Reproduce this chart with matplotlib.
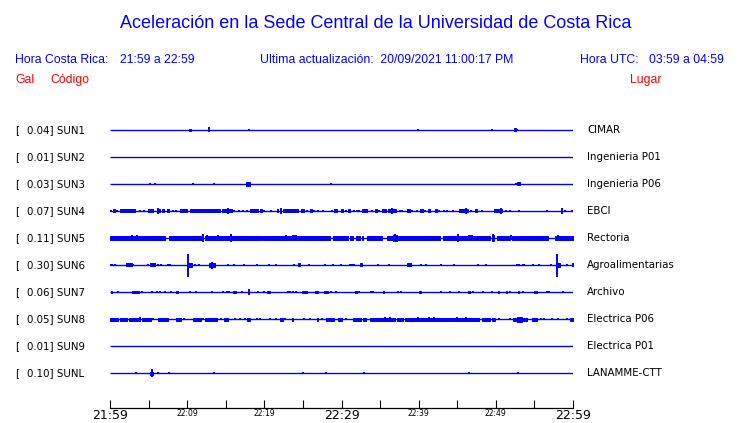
import matplotlib
matplotlib.use("Agg")
import matplotlib.pyplot as plt
from matplotlib import transforms

# ---------------- data ----------------
stations = ["SUN1", "SUN2", "SUN3", "SUN4", "SUN5", "SUN6", "SUN7", "SUN8", "SUN9", "SUNL"]
gal_values = [0.04, 0.01, 0.03, 0.07, 0.11, 0.30, 0.06, 0.05, 0.01, 0.10]
places = ["CIMAR", "Ingenieria P01", "Ingenieria P06", "EBCI", "Rectoria",
          "Agroalimentarias", "Archivo", "Electrica P06", "Electrica P01", "LANAMME-CTT"]

tick_minutes = [0, 5, 10, 15, 20, 25, 30, 35, 40, 45, 50, 55, 60]
tick_labels = ["21:59", "", "22:09", "", "22:19", "", "22:29", "", "22:39", "", "22:49", "", "22:59"]
big_labels = ["21:59", "22:29", "22:59"]

# bursts per station: (start minute, end minute, half amplitude in px)
sun1_blocks = [(10.3, 10.55, 1.3), (52.3, 52.6, 1.5)]
sun1_ticks = [18.0, 39.9, 49.5, 52.8]
sun1_peaks = [(12.8, 2.5)]

sun2_blocks = []
sun2_ticks = []
sun2_peaks = []

sun3_blocks = [(17.6, 18.2, 1.6), (52.8, 53.1, 1.5)]
sun3_ticks = [5.2, 5.8, 10.7, 13.5, 28.6, 52.6]
sun3_peaks = []

sun4_blocks = [(0.43, 0.65, 1.5), (1.25, 3.24, 1.5), (4.88, 5.62, 1.5), (6.05, 6.48, 1.5),
               (6.78, 7.04, 1.5), (7.34, 7.65, 1.5), (9.11, 9.94, 1.5), (10.37, 14.25, 1.5),
               (14.56, 15.77, 1.5), (18.14, 19.22, 1.5), (19.44, 19.65, 1.5), (21.6, 21.8, 1.5),
               (22.46, 24.4, 1.5), (24.75, 25.18, 1.5), (25.92, 26.13, 1.5), (29.07, 29.37, 1.5),
               (29.89, 30.19, 1.5), (30.88, 31.1, 1.5), (32.65, 33.34, 1.5), (34.34, 34.55, 1.5),
               (35.2, 35.76, 1.5), (36.06, 37.06, 1.5), (38.44, 38.87, 1.5), (40.17, 40.51, 1.5),
               (41.25, 41.46, 1.5), (42.11, 42.33, 1.5), (45.26, 46.43, 1.5), (47.29, 47.51, 1.5),
               (49.8, 50.75, 1.5)]
sun4_ticks = [0.13, 0.86, 3.89, 4.45, 8.21, 8.55, 16.11, 16.76, 17.28, 17.71, 20.0, 20.82,
              25.49, 26.48, 27.0, 27.65, 28.73, 30.58, 31.61, 31.96, 32.3, 33.99, 34.85,
              37.58, 37.83, 39.13, 39.74, 40.82, 42.67, 43.28, 43.71, 44.49, 46.73, 48.16,
              51.27, 51.83, 52.95, 56.58, 58.96, 59.85]
sun4_peaks = [(6.26, 2.8), (15.33, 2.8), (22.12, 3.0), (36.5, 2.8), (46.13, 2.8),
              (50.66, 2.8), (58.53, 3.0)]

sun5_blocks = [(0.0, 7.13, 1.7), (7.65, 11.88, 1.7), (12.31, 19.65, 1.7), (19.87, 28.51, 1.7),
               (28.94, 30.88, 1.7), (31.1, 31.5, 1.7), (31.9, 32.39, 1.7), (32.61, 32.82, 1.7),
               (33.26, 35.2, 1.7), (35.85, 42.76, 1.7), (43.19, 49.24, 1.7), (50.1, 51.83, 1.7),
               (52.05, 56.8, 1.7), (57.66, 60.0, 1.7),
               (23.54, 24.06, 2.5), (36.71, 37.14, 3.0), (46.4, 46.9, 2.5), (49.45, 49.76, 3.0)]
sun5_ticks = []
sun5_peaks = [(2.89, 2.5), (3.54, 2.5), (5.83, 2.3), (12.01, 4.0), (12.53, 2.5), (14.04, 2.5),
              (15.68, 4.0), (17.28, 2.3), (22.03, 2.3), (22.81, 2.5), (25.05, 2.3), (40.82, 2.3),
              (36.9, 4.0), (45.13, 4.0), (49.6, 3.5), (52.0, 2.5), (58.1, 2.5)]

sun6_blocks = [(2.07, 2.81, 1.5), (5.18, 5.83, 1.5), (24.32, 24.62, 1.5), (32.39, 32.61, 1.5),
               (38.44, 38.96, 1.5), (59.82, 60.0, 1.5),
               (10.15, 10.58, 2.3), (12.87, 13.61, 2.3), (57.79, 58.31, 2.3)]
sun6_ticks = [0.05, 0.30, 0.65, 3.02, 4.88, 6.26, 6.61, 7.56, 7.78, 11.01, 11.58, 15.33,
              16.11, 17.41, 19.09, 20.65, 21.47, 23.84, 25.83, 27.86, 28.86, 29.94, 31.1,
              31.4, 31.66, 34.68, 36.11, 40.25, 40.99, 42.89, 44.62, 47.73, 48.68, 52.69,
              52.95, 53.47, 53.69, 54.85, 55.63, 57.1, 59.17]
sun6_peaks = [(10.07, 11.5), (13.17, 3.5), (57.96, 11.5)]

sun7_blocks = [(0.13, 0.3, 1.5), (2.81, 3.76, 1.5), (8.55, 8.86, 1.5), (15.9, 16.29, 1.5),
               (20.39, 20.73, 1.5), (24.93, 25.49, 1.5), (26.57, 27.0, 1.5), (27.78, 28.21, 1.5),
               (31.74, 31.96, 1.5), (35.42, 35.55, 1.5), (40.08, 40.25, 1.5), (46.43, 46.65, 1.5),
               (50.23, 50.36, 1.5), (51.27, 51.4, 1.5), (52.82, 53.04, 1.5), (54.98, 55.29, 1.5)]
sun7_ticks = [1.08, 4.19, 5.4, 6.05, 6.48, 7.13, 7.86, 10.37, 11.1, 13.17, 14.69, 15.12,
              15.46, 17.06, 19.14, 19.96, 23.02, 23.33, 23.76, 24.06, 28.64, 29.24, 32.3,
              33.77, 34.12, 37.27, 37.7, 42.89, 44.05, 45.26, 47.08, 48.37, 49.45, 51.83,
              53.47, 56.58, 56.93, 58.66]
sun7_peaks = [(18.01, 3.0)]

sun8_blocks = [(0.0, 0.99, 1.5), (1.3, 1.51, 1.5), (1.73, 2.16, 1.5), (2.46, 3.24, 1.5),
               (3.37, 3.67, 1.5), (4.1, 5.27, 1.5), (6.18, 7.47, 1.5), (8.55, 9.2, 1.5),
               (10.8, 11.75, 1.5), (12.31, 13.82, 1.5), (14.82, 15.33, 1.5), (17.8, 18.14, 1.5),
               (22.03, 22.38, 1.5), (23.63, 23.76, 1.5), (26.78, 27.0, 1.5), (27.95, 28.21, 1.5),
               (28.42, 28.99, 1.5), (29.59, 30.02, 1.5), (31.53, 31.96, 1.5), (32.18, 32.48, 1.5),
               (32.82, 33.17, 1.5), (33.69, 36.93, 1.5), (37.14, 38.01, 1.5), (38.22, 44.27, 1.5),
               (44.49, 47.86, 1.5), (48.24, 49.24, 1.5), (49.45, 49.89, 1.5), (52.26, 52.69, 1.5),
               (53.56, 54.08, 1.5), (54.72, 55.37, 1.5), (59.61, 60.0, 1.5),
               (52.69, 53.34, 2.5)]
sun8_ticks = [5.62, 9.63, 12.01, 14.38, 16.2, 16.85, 17.49, 19.0, 19.44, 20.73, 21.47,
              22.68, 25.14, 25.92, 27.43, 30.58, 50.45, 51.83, 55.8, 56.24, 57.27, 58.1, 59.26]
sun8_peaks = [(3.89, 2.5), (35.63, 2.5), (36.28, 2.5), (39.95, 2.5), (41.38, 2.5),
              (42.02, 2.5), (45.01, 2.5), (46.09, 2.5)]

sun9_blocks = []
sun9_ticks = []
sun9_peaks = []

sunl_blocks = [(5.18, 5.62, 1.5)]
sunl_ticks = [3.37, 6.26, 7.69, 13.52, 25.05, 27.99, 32.95, 46.56, 52.91]
sunl_peaks = [(5.49, 4.0)]

all_blocks = [sun1_blocks, sun2_blocks, sun3_blocks, sun4_blocks, sun5_blocks,
              sun6_blocks, sun7_blocks, sun8_blocks, sun9_blocks, sunl_blocks]
all_ticks = [sun1_ticks, sun2_ticks, sun3_ticks, sun4_ticks, sun5_ticks,
             sun6_ticks, sun7_ticks, sun8_ticks, sun9_ticks, sunl_ticks]
all_peaks = [sun1_peaks, sun2_peaks, sun3_peaks, sun4_peaks, sun5_peaks,
             sun6_peaks, sun7_peaks, sun8_peaks, sun9_peaks, sunl_peaks]

# ---------------- figure ----------------
W, H = 740, 423
BLUE = (0, 0, 1)
RED = (1, 0, 0)
SP = 27.0          # pixel spacing between traces
TICK_AMP = 1.4     # default half amplitude of single ticks (px)

fig = plt.figure(figsize=(W / 100, H / 100), dpi=100)
fig.patch.set_facecolor("white")

ax = fig.add_axes([110 / W, 15 / H, 463 / W, 298 / H])
ax.set_xlim(0, 60)
ax.set_ylim(-(408 - 130) / SP, (130 - 110) / SP)
for s in ["top", "left", "right"]:
    ax.spines[s].set_visible(False)
ax.spines["bottom"].set_color("black")
ax.spines["bottom"].set_linewidth(0.9)
ax.set_yticks([])
ax.set_xticks(tick_minutes)
ax.set_xticklabels(tick_labels)
ax.tick_params(axis="x", direction="in", length=5.8, width=0.8, color="black", pad=1.0)
for lbl in ax.get_xticklabels():
    if lbl.get_text() in big_labels:
        lbl.set_fontsize(9.0)
    else:
        lbl.set_fontsize(5.5)
    lbl.set_family("DejaVu Sans")

for i, st in enumerate(stations):
    y0 = -i
    ax.plot([0, 60], [y0, y0], color=BLUE, lw=1.0, solid_capstyle="butt")
    for (a, b, amp) in all_blocks[i]:
        h = amp / SP
        ax.fill_between([a, b], [y0 - h, y0 - h], [y0 + h, y0 + h],
                        color=BLUE, lw=0.7, edgecolor=BLUE)
    if all_ticks[i]:
        h = TICK_AMP / SP
        ax.vlines(all_ticks[i], y0 - h, y0 + h, color=BLUE, lw=1.5)
    for (t, amp) in all_peaks[i]:
        h = amp / SP
        ax.vlines([t], y0 - h, y0 + h, color=BLUE, lw=1.4)

# trace labels
tr = transforms.blended_transform_factory(fig.transFigure, ax.transData)
for i, st in enumerate(stations):
    ax.text(15 / W, -i, "[", transform=tr, ha="left", va="center",
            fontsize=7.4, family="DejaVu Sans", color="black", clip_on=False)
    ax.text(27 / W, -i, f"{gal_values[i]:.2f}] {st}", transform=tr, ha="left", va="center",
            fontsize=7.4, family="DejaVu Sans", color="black", clip_on=False)
    ax.text(587 / W, -i, places[i], transform=tr, ha="left", va="center",
            fontsize=7.4, family="DejaVu Sans", color="black", clip_on=False)

# header texts
hf = "Liberation Sans"
fig.text(376 / W, 1 - 23 / H, "Aceleración en la Sede Central de la Universidad de Costa Rica",
         ha="center", va="center", fontsize=13, family=hf, color=BLUE)
fig.text(15 / W, 1 - 60 / H, "Hora Costa Rica:", ha="left", va="center",
         fontsize=8.8, family=hf, color=BLUE)
fig.text(120 / W, 1 - 60 / H, "21:59 a 22:59", ha="left", va="center",
         fontsize=8.8, family=hf, color=BLUE)
fig.text(260 / W, 1 - 60 / H, "Ultima actualización:  20/09/2021 11:00:17 PM", ha="left",
         va="center", fontsize=8.8, family=hf, color=BLUE)
fig.text(580 / W, 1 - 60 / H, "Hora UTC:", ha="left", va="center",
         fontsize=8.8, family=hf, color=BLUE)
fig.text(724 / W, 1 - 60 / H, "03:59 a 04:59", ha="right", va="center",
         fontsize=8.8, family=hf, color=BLUE)
fig.text(15 / W, 1 - 80 / H, "Gal", ha="left", va="center",
         fontsize=8.8, family=hf, color=RED)
fig.text(50 / W, 1 - 80 / H, "Código", ha="left", va="center",
         fontsize=8.8, family=hf, color=RED)
fig.text(630 / W, 1 - 80 / H, "Lugar", ha="left", va="center",
         fontsize=8.8, family=hf, color=RED)

fig.savefig("out.png", dpi=100, facecolor="white")
